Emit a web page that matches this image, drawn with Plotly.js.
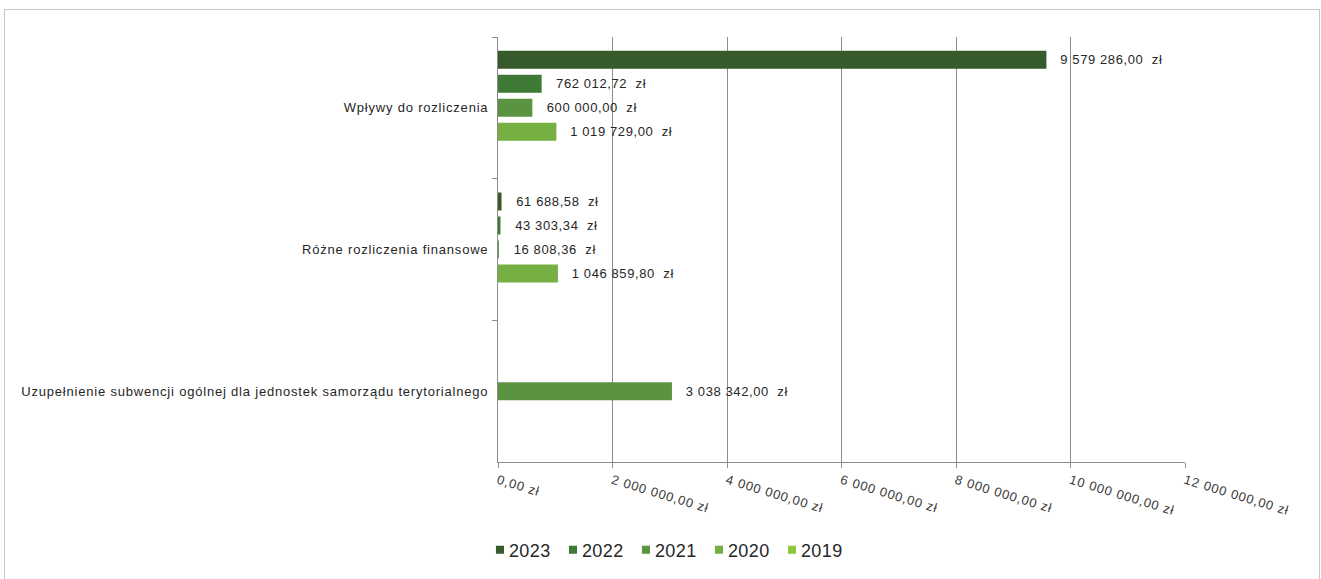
<!DOCTYPE html>
<html>
<head>
<meta charset="utf-8">
<script src="https://cdn.plot.ly/plotly-3.0.1.min.js"></script>
<style>
  html, body { margin: 0; padding: 0; background: #fff; }
  #chart { width: 1321px; height: 579px; position: absolute; left: 0; top: 0; }
  #frame { position: absolute; left: 4px; top: 9px; width: 1314px; height: 600px; border: 1px solid #c6c6c6; pointer-events: none; }
  #chart .ytick text { letter-spacing: 0.8px; }
  #chart .xtick text { letter-spacing: 0.8px; }
  #chart .bartext { letter-spacing: 0.6px; }
  #chart .legendtext { letter-spacing: 0.4px; }
  #chart .legendpoints path { transform: translate(31px, 0px) scale(0.67); }
  #chart .legend .scrollbox { clip-path: none !important; }
</style>
</head>
<body>
<div id="chart"></div>
<div id="frame"></div>
<script>
// Categories (top to bottom)
const categories = [
  "Wpływy do rozliczenia",
  "Różne rozliczenia finansowe",
  "Uzupełnienie subwencji ogólnej dla jednostek samorządu terytorialnego"
];
// Series
const years = ["2023", "2022", "2021", "2020", "2019"];
const values2023 = [9579286.00, 61688.58, null];
const values2022 = [762012.72, 43303.34, null];
const values2021 = [600000.00, 16808.36, 3038342.00];
const values2020 = [1019729.00, 1046859.80, null];
const values2019 = [null, null, null];
// X axis ticks
const xTickValues = [0, 2000000, 4000000, 6000000, 8000000, 10000000, 12000000];

function fmtPLN(v) {
  const parts = v.toFixed(2).split(".");
  parts[0] = parts[0].replace(/\B(?=(\d{3})+(?!\d))/g, " ");
  return parts.join(",") + " zł";
}
const xTickText = xTickValues.map(fmtPLN);

const seriesValues = [values2023, values2022, values2021, values2020, values2019];
const colors = ["#375a2a", "#3e7a35", "#5a9342", "#76b043", "#8dc63f"];

const traces = years.map((yr, i) => ({
  type: "bar",
  orientation: "h",
  name: yr,
  y: categories,
  x: seriesValues[i],
  marker: { color: colors[i] },
  texttemplate: "\u00a0\u00a0\u00a0\u00a0%{x:,.2f}  zł",
  textposition: "outside",
  cliponaxis: false,
  textfont: { family: "Liberation Sans, Arial, sans-serif", size: 13, color: "#262626" },
  hoverinfo: "skip"
}));

const layout = {
  width: 1321,
  height: 579,
  paper_bgcolor: "rgba(0,0,0,0)",
  plot_bgcolor: "#fff",
  separators: ", ",
  barmode: "group",
  bargap: 0.153,
  bargroupgap: 0.25,
  margin: { l: 498, r: 136, t: 37, b: 117 },
  font: { family: "Liberation Sans, Arial, sans-serif", color: "#404040" },
  xaxis: {
    range: [0, 12000000],
    tickmode: "array",
    tickvals: xTickValues,
    ticktext: xTickText,
    tickangle: 17,
    showgrid: true,
    gridcolor: "#8c8c8c",
    gridwidth: 1,
    showline: true,
    linecolor: "#8c8c8c",
    linewidth: 1,
    ticks: "outside",
    ticklen: 5,
    tickcolor: "#8c8c8c",
    tickfont: { size: 13, color: "#404040" },
    zeroline: false,
    fixedrange: true
  },
  yaxis: {
    type: "category",
    autorange: "reversed",
    showline: true,
    linecolor: "#8c8c8c",
    linewidth: 1,
    ticks: "outside",
    tickson: "boundaries",
    ticklen: 5,
    tickcolor: "#8c8c8c",
    showgrid: false,
    tickfont: { size: 13, color: "#262626" },
    ticklabelstandoff: 6,
    fixedrange: true
  },
  showlegend: true,
  legend: {
    orientation: "h",
    xref: "container",
    yref: "container",
    x: 0.355,
    xanchor: "left",
    y: 0.05,
    yanchor: "middle",
    font: { size: 18, color: "#262626" },
    traceorder: "normal",
    entrywidth: 28,
    entrywidthmode: "pixels"
  }
};

Plotly.newPlot("chart", traces, layout, { staticPlot: true, displayModeBar: false });
</script>
</body>
</html>
